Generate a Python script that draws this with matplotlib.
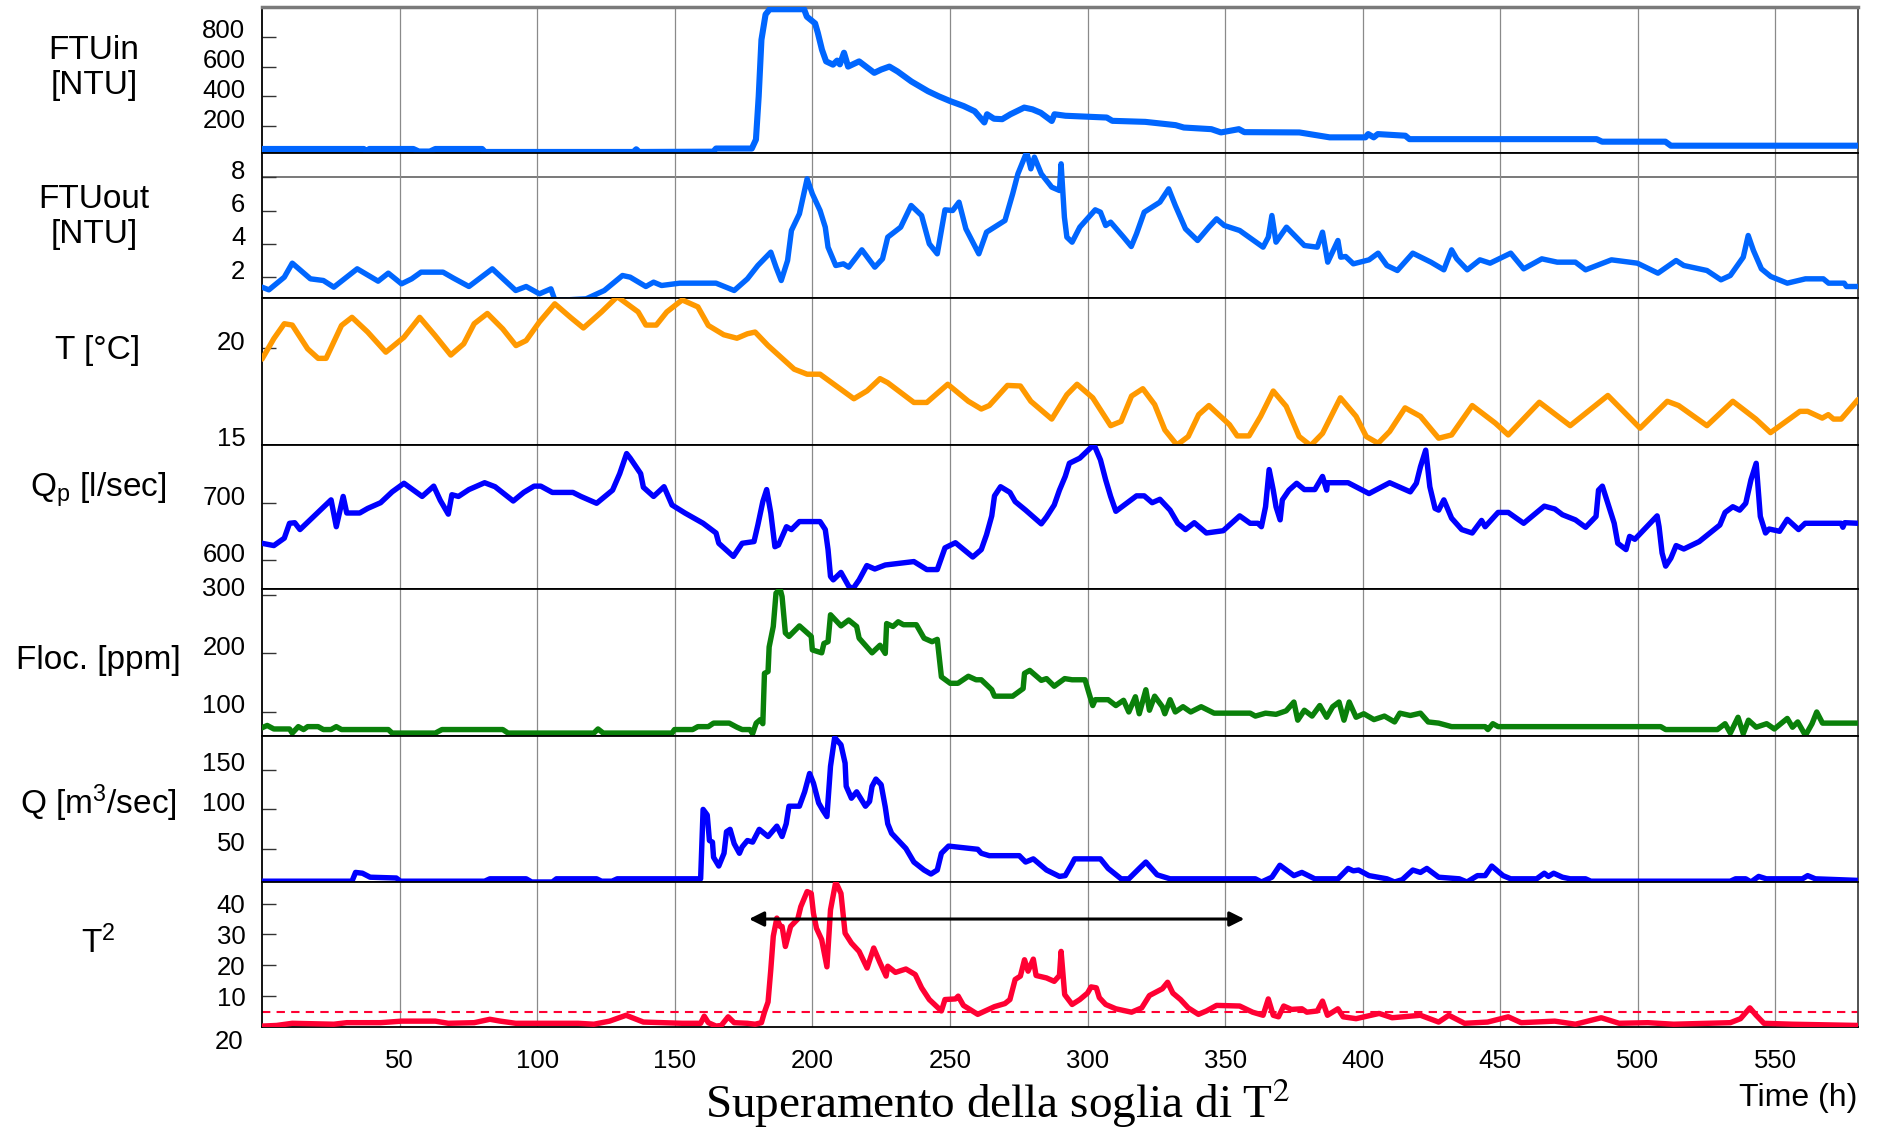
import matplotlib
matplotlib.use("Agg")
import matplotlib.pyplot as plt
import matplotlib.transforms as mtransforms

plt.rcParams['font.family'] = ['Liberation Sans', 'DejaVu Sans']
plt.rcParams['mathtext.fontset'] = 'custom'
plt.rcParams['mathtext.rm'] = 'Liberation Sans'
plt.rcParams['mathtext.it'] = 'Liberation Sans:italic'

# ---- data (hours, value) ----
ftuin = [(0, 47), (37, 47), (38, 30), (39, 47), (55, 47), (57, 30), (61, 30), (63, 47), (80, 47), (81, 27),
         (135, 27), (136, 45), (137, 27), (164, 29), (165, 50), (178, 50), (179.5, 110), (180.5, 400),
         (181.5, 780), (183, 950), (184.5, 985), (197, 985), (198, 935), (201, 890), (202, 826), (203.5, 713),
         (205, 635), (207.5, 613), (209, 640), (210, 615), (211.5, 693), (213, 600), (217, 635), (222.5, 558),
         (225, 580), (228, 600), (231, 567), (236, 500), (242, 435), (246, 400), (250, 369), (255, 335),
         (259, 300), (262.5, 225), (263.5, 280), (266, 250), (269, 247), (272, 280), (277, 325), (280, 313),
         (283, 290), (287, 235), (288, 280), (292, 270), (307, 258), (309, 236), (321, 229), (332, 207),
         (335, 191), (345, 180), (348.5, 158), (355, 180), (357, 160), (377, 158), (388, 125), (401, 125),
         (402, 147), (404, 125), (405.5, 147), (415.5, 136), (417, 113), (485, 113), (487, 96), (510, 96),
         (512, 69), (580, 69)]

ftuout = [(0, 1.4), (2.5, 1.24), (8.1, 2.0), (11, 2.84), (17.6, 1.9), (22.3, 1.8), (26.1, 1.4), (34.6, 2.5),
          (42.2, 1.76), (45.9, 2.24), (50.7, 1.6), (54.4, 1.9), (57.8, 2.3), (65.8, 2.3), (69.6, 1.94),
          (75.2, 1.44), (83.7, 2.5), (92.2, 1.2), (96, 1.44), (100.8, 1.0), (105, 1.3), (106.4, 0.64),
          (111, 0.64), (117.8, 0.7), (124.4, 1.2), (131, 2.1), (133.8, 2.0), (139.5, 1.44), (142.3, 1.7),
          (145.2, 1.5), (151.8, 1.64), (165, 1.64), (171.6, 1.2), (176.4, 1.9), (180.2, 2.7), (184.9, 3.5),
          (186.8, 2.6), (188.7, 1.8), (191, 3.0), (192.4, 4.8), (195.3, 5.8), (198.1, 7.9), (200, 7.0),
          (202.8, 6.0), (204.7, 5.0), (205.7, 3.8), (208.5, 2.7), (211.3, 2.8), (213.2, 2.6), (218, 3.64),
          (222.7, 2.6), (225.5, 3.1), (227.4, 4.4), (232.1, 5.0), (235.9, 6.3), (239.7, 5.7), (242.5, 4.0),
          (245.4, 3.4), (248.2, 6.04), (251, 6.0), (253.3, 6.5), (255.8, 4.9), (260.5, 3.4), (263.3, 4.7),
          (270, 5.4), (272.8, 7.0), (274.7, 8.2), (277.9, 9.5), (279.4, 8.5), (280.7, 9.2), (283.2, 8.2),
          (287, 7.4), (289.8, 7.2), (290.4, 8.8), (291.6, 5.6), (292.5, 4.4), (294.4, 4.1), (297.2, 5.0),
          (302.8, 6.04), (304.7, 5.9), (306.6, 5.1), (308.4, 5.3), (313.1, 4.4), (315.9, 3.84), (317.8, 4.6),
          (320.6, 5.9), (326.3, 6.5), (329.5, 7.3), (331.9, 6.3), (335.6, 4.9), (340, 4.2), (344.1, 5.0),
          (346.9, 5.5), (349.7, 5.1), (355.3, 4.8), (363.8, 3.8), (365.7, 4.4), (367, 5.7), (368.5, 4.1),
          (372.3, 5.0), (378.8, 3.9), (383.5, 3.8), (385.4, 4.7), (387.3, 2.9), (391, 4.2), (392, 3.2),
          (393.8, 3.24), (396.6, 2.8), (402.3, 3.04), (405.6, 3.44), (408.8, 2.7), (412.6, 2.4), (418.2, 3.44),
          (424.8, 2.9), (429.5, 2.44), (432.3, 3.64), (434.2, 3.1), (438, 2.44), (442.6, 3.04), (446.3, 2.84),
          (453.8, 3.44), (458.5, 2.5), (465.1, 3.1), (470.7, 2.9), (477.3, 2.9), (481, 2.44), (490.4, 3.04),
          (499.8, 2.84), (507.3, 2.24), (513.9, 3.0), (516.7, 2.7), (525.1, 2.4), (530.2, 1.84), (533.6, 2.1),
          (538.3, 3.2), (540.1, 4.5), (542, 3.6), (544.9, 2.5), (548.3, 2.04), (554.3, 1.64), (560.9, 1.9),
          (567.4, 1.9), (569.3, 1.64), (575, 1.64), (575.8, 1.44), (580, 1.44)]

temp = [(0, 19.44), (4.3, 20.5), (8.1, 21.27), (11, 21.2), (16.6, 19.97), (20.4, 19.48), (23.3, 19.48),
        (28.9, 21.18), (32.7, 21.6), (38.4, 20.84), (45, 19.8), (51.6, 20.57), (57.3, 21.6), (62.9, 20.66),
        (68.6, 19.65), (73.3, 20.23), (77.1, 21.27), (81.9, 21.8), (87.5, 21.0), (92.3, 20.14), (96, 20.4),
        (100.8, 21.36), (106.4, 22.3), (112.1, 21.6), (116.8, 21.05), (123.4, 21.88), (129.1, 22.67),
        (136.7, 21.88), (139.5, 21.2), (143.3, 21.2), (147.1, 21.88), (152.7, 22.5), (158.4, 22.14),
        (162.2, 21.18), (167.8, 20.7), (172.6, 20.52), (176.4, 20.75), (179.2, 20.84), (183.9, 20.14),
        (193.4, 18.92), (198.1, 18.66), (202.8, 18.66), (215.1, 17.39), (219.9, 17.8), (224.6, 18.43),
        (227.4, 18.22), (236.9, 17.2), (241.6, 17.2), (249.2, 18.14), (256.7, 17.26), (261.4, 16.86),
        (264.3, 17.04), (270.9, 18.08), (275.6, 18.05), (279.4, 17.26), (287, 16.34), (292.5, 17.6),
        (296.2, 18.14), (301.9, 17.44), (308.4, 16.0), (312.2, 16.22), (316, 17.53), (320.1, 17.91),
        (324.4, 17.09), (328.1, 15.78), (332.5, 15.0), (336.6, 15.44), (340.4, 16.57), (344.1, 17.04),
        (351.6, 16.05), (354.4, 15.47), (358.7, 15.47), (362.9, 16.48), (367.5, 17.79), (372.2, 17.0),
        (376.9, 15.44), (381.1, 14.97), (385.4, 15.6), (391.9, 17.44), (397.6, 16.48), (401.3, 15.44),
        (405.6, 15.09), (409.8, 15.7), (415.4, 16.92), (421, 16.48), (427.6, 15.35), (432.3, 15.52),
        (439.8, 17.04), (448.2, 16.13), (452.9, 15.52), (464.2, 17.21), (475.4, 16.0), (489.1, 17.56),
        (500.8, 15.87), (510.7, 17.26), (514.8, 17.04), (525.1, 16.0), (534.5, 17.26), (542.9, 16.34),
        (548.2, 15.64), (558.9, 16.74), (561.7, 16.74), (567, 16.39), (569.2, 16.57), (571.1, 16.34),
        (573.9, 16.34), (580, 17.35)]

qp = [(0, 630), (4.3, 626), (8.1, 639), (10, 665), (11.9, 666), (13.8, 654), (25.1, 706), (27, 659),
      (29.5, 712), (30.8, 683), (35.5, 683), (38.4, 691), (43.1, 701), (47.3, 720), (51.6, 735), (58.2, 712),
      (62.4, 730), (64.8, 705), (67.7, 681), (69, 715), (71.4, 712), (75.2, 724), (80.9, 736), (84.7, 729),
      (91.3, 704), (95.1, 719), (98.9, 730), (101.3, 730), (105.5, 719), (113, 719), (115.9, 712),
      (121.6, 700), (127.4, 723), (130, 752), (132.5, 787), (133.8, 779), (137.6, 752), (138.6, 728),
      (142.3, 712), (146.1, 729), (149, 697), (153.7, 683), (160.3, 665), (165, 648), (166, 630),
      (171.3, 607), (174.5, 630), (178.8, 633), (180.2, 662), (182, 703), (183.4, 724), (184.9, 683),
      (186.4, 624), (187.7, 627), (190.6, 659), (192.4, 654), (195.3, 668), (202.8, 668), (204.7, 654),
      (205.7, 619), (206.6, 572), (207.6, 566), (210.4, 579), (213.2, 555), (214.7, 550), (217, 566),
      (219.8, 591), (222.7, 585), (226.5, 592), (236.9, 598), (241.6, 584), (245.4, 584), (248.2, 622),
      (252, 631), (258.3, 606), (261.4, 619), (263.3, 645), (265.2, 678), (266.2, 713), (268.4, 729),
      (271.8, 719), (273.7, 703), (277.5, 688), (283.2, 664), (285.1, 676), (287.9, 697), (289.8, 723),
      (291.9, 747), (293.4, 770), (297.2, 779), (300.9, 796), (302.4, 802), (304.7, 776), (306.6, 741),
      (308.4, 712), (310.3, 686), (317.8, 713), (320.6, 713), (323.5, 701), (326.3, 707), (330, 688),
      (332.8, 665), (335.6, 654), (338.8, 666), (343.2, 648), (349.3, 652), (355.3, 678), (359.1, 665),
      (361.9, 665), (363.2, 659), (364.7, 694), (366, 759), (367.5, 723), (368.5, 694), (370, 671),
      (370.8, 706), (373.2, 723), (376, 735), (378.8, 724), (382.6, 724), (385.4, 747), (386.9, 723),
      (387.2, 736), (394.7, 736), (402.3, 717), (409.8, 736), (417.3, 720), (419.5, 735), (421, 764),
      (422.9, 793), (424.4, 729), (426.3, 691), (427.6, 688), (429.5, 706), (432.3, 674), (436, 654),
      (439.8, 648), (443.2, 670), (444.5, 659), (449.2, 684), (452.9, 684), (458.5, 665), (466, 695),
      (469.8, 690), (472.6, 680), (477.3, 671), (481, 658), (484.8, 677), (485.7, 723), (487.1, 730),
      (489.5, 694), (491.4, 665), (492.7, 630), (495.7, 619), (497, 642), (498.9, 637), (507, 678),
      (507.7, 659), (508.8, 613), (510.1, 590), (512, 604), (513.9, 626), (516.7, 620), (522.3, 633),
      (529.8, 662), (531.7, 684), (534.5, 694), (537, 688), (539.2, 700), (541.1, 741), (543, 770),
      (544.5, 677), (546.4, 648), (547.7, 655), (551.5, 651), (554.3, 672), (558.4, 654), (560.8, 665),
      (573.9, 665), (574.5, 658), (575.2, 666), (580, 665)]

floc = [(0, 73), (1.9, 77), (4.3, 71), (10, 71), (11, 64), (13.2, 75), (15.1, 70), (16.6, 75), (20.4, 75),
        (22.3, 70), (25.1, 70), (27, 75), (28.9, 70), (45.9, 70), (47.3, 64), (63, 64), (65.4, 70), (87.5, 70),
        (89.4, 64), (120.6, 64), (122.1, 71), (124, 64), (149, 64), (149.9, 70), (156.5, 70), (158.4, 75),
        (162.2, 75), (164.1, 81), (169.8, 81), (172.6, 74), (174.5, 70), (177.3, 70), (178.3, 63),
        (179.6, 81), (181.1, 87), (182, 80), (182.6, 166), (183.9, 169), (184.3, 211), (185.8, 246),
        (186.8, 303), (188.3, 310), (189, 297), (190.2, 235), (191.5, 229), (195.3, 247), (199.6, 229),
        (200, 206), (203.4, 201), (204.2, 217), (205.7, 220), (206.6, 266), (210.4, 247), (213.2, 257),
        (216.1, 246), (217, 226), (221.7, 201), (224.6, 214), (226.5, 200), (227, 251), (229.3, 246),
        (231.2, 254), (233.1, 249), (237.8, 249), (240.6, 226), (243.5, 220), (245.4, 224), (246.9, 160),
        (250.1, 149), (252.9, 149), (256.7, 161), (259.5, 155), (261.4, 155), (265.2, 138), (266.2, 127),
        (272.8, 127), (276.6, 140), (277.1, 166), (279, 171), (283.2, 154), (285.1, 157), (287.9, 144),
        (291.7, 157), (294.4, 155), (299.1, 155), (300.6, 131), (301.9, 111), (302.8, 121), (307.5, 121),
        (310.3, 111), (313.1, 120), (315, 100), (317.4, 126), (318.8, 97), (321.2, 138), (322.5, 103),
        (324.4, 127), (327.2, 109), (328.1, 97), (330, 121), (331.9, 100), (334.7, 109), (337.5, 100),
        (341.3, 109), (346, 98), (359.1, 98), (361, 93), (364.7, 98), (368.5, 96), (372.2, 102), (375, 117),
        (376.4, 86), (378.8, 103), (381.6, 93), (384.4, 111), (386.9, 91), (389.1, 109), (391.4, 117),
        (393.2, 86), (395.1, 117), (397.6, 91), (400.4, 97), (404.1, 87), (407.9, 93), (411.6, 83),
        (413.5, 98), (417.3, 94), (421, 98), (423.8, 83), (427.6, 81), (432.3, 75), (444.5, 75), (445.5, 70),
        (447.3, 80), (449.2, 75), (508.3, 75), (510.1, 70), (528.9, 70), (531.7, 80), (533.6, 64),
        (536.4, 91), (538.3, 63), (540.2, 86), (543, 74), (546.8, 80), (549.6, 71), (554.3, 89), (556.2, 74),
        (558.1, 83), (560.9, 60), (563.3, 80), (565, 100), (567.1, 81), (580, 81)]

qriver = [(0, 10), (32.7, 10), (34, 21), (36.5, 20), (39.3, 15), (48.8, 14), (50.3, 10), (80.9, 10),
          (82.8, 13), (96, 13), (98, 9), (105.5, 9), (107, 13), (121.6, 13), (123.4, 10), (127.2, 10),
          (129.1, 13), (159.4, 13), (160.3, 100), (161.8, 93), (162.6, 61), (163.7, 59), (164.1, 40),
          (166, 29), (167.9, 45), (168.8, 72), (170.1, 75), (171.6, 57), (173.5, 45), (174.5, 53),
          (176.4, 61), (178.3, 59), (180.7, 75), (183.9, 66), (187.1, 79), (189, 66), (190.5, 82),
          (191.5, 104), (195.3, 104), (197.2, 122), (199, 145), (200.4, 133), (202.3, 108), (203.8, 99),
          (205.3, 91), (206.6, 154), (208.1, 190), (210.4, 181), (211.9, 158), (212.3, 129), (214.2, 114),
          (216.1, 122), (219.3, 104), (220.8, 110), (221.7, 129), (223.1, 138), (225, 131), (226.5, 103),
          (227.4, 82), (228.8, 70), (234, 51), (236.9, 34), (240.6, 24), (243.1, 19), (245.4, 24),
          (246.9, 45), (249.5, 54), (260.1, 50), (261.4, 45), (264.3, 42), (275.2, 42), (277.5, 34),
          (280.3, 38), (285.1, 24), (289.8, 16), (291.9, 17), (294.4, 32), (295.3, 38), (304.7, 38),
          (307.5, 26), (312.2, 13), (315, 13), (318.8, 26), (321.2, 34), (325.3, 18), (330, 13), (361, 13),
          (363.2, 9), (367, 15), (369.9, 30), (375, 17), (377.9, 21), (382.6, 13), (391, 13), (394.7, 26),
          (396.6, 23), (398.5, 24), (402.3, 17), (408.8, 13), (411.6, 9), (414.4, 12), (418.2, 24),
          (421, 21), (423.3, 26), (427.6, 15), (435.1, 13), (437.9, 9), (441.7, 17), (444.5, 17), (446.9, 29),
          (451, 17), (453.8, 13), (463.2, 13), (466, 20), (467.5, 16), (469.4, 20), (472.6, 15), (475.4, 13),
          (481, 13), (482.9, 10), (533.6, 10), (535.5, 13), (539.2, 13), (541.1, 9), (543.9, 16),
          (546.7, 13), (559.8, 13), (561.7, 17), (564.5, 13), (580, 11)]

t2 = [(0, 0.3), (5.3, 0.5), (11, 1.2), (26.1, 0.9), (30.8, 1.4), (43.1, 1.4), (50.7, 1.9), (63, 1.9),
      (67.7, 1.2), (77.1, 1.4), (82.8, 2.5), (86.6, 1.9), (92.2, 1.2), (114.9, 1.2), (120.6, 0.9),
      (126.3, 1.9), (132.3, 3.8), (138.6, 1.6), (152.7, 1.2), (159.4, 1.2), (160.7, 3.5), (162.2, 1.4),
      (165, 0.3), (166.9, 0.5), (169.4, 3.3), (171.6, 1.4), (176.4, 1.2), (179.2, 0.9), (181.5, 1.4),
      (182.6, 4.8), (183.9, 8.1), (184.9, 18.6), (185.8, 29.4), (187.1, 35.3), (188.3, 32.6), (189, 32.6),
      (190.2, 26.1), (192.1, 32.6), (194.7, 35), (195.8, 39), (198.1, 43.9), (199.6, 43.3), (200.4, 36.9),
      (201.5, 32), (203.4, 28.3), (205.3, 19.5), (206.6, 38), (208.5, 47), (210.4, 43.3), (211.9, 30.4),
      (214.2, 27.2), (217, 24.5), (219.9, 19.1), (222.3, 25.6), (224.6, 20.8), (226.8, 16.5), (227.4, 19.7),
      (230.2, 17.7), (234, 18.8), (237.4, 17), (239.7, 12.7), (242.5, 8.9), (246.9, 5.2), (248.2, 8.9),
      (252, 9.1), (253, 10), (254.9, 7), (260.1, 4.1), (266.2, 6.6), (270, 7.6), (271.8, 8.9), (273.7, 15.4),
      (275.6, 16.5), (277.1, 21.8), (278.4, 18.1), (280.3, 22), (281.3, 16.7), (285.1, 15.9), (287.9, 14.8),
      (289.8, 16.7), (290.4, 24.5), (291.7, 10.5), (294.4, 7.3), (297.2, 8.9), (300, 11), (301.3, 13),
      (303.2, 12.7), (304.3, 9.5), (306.6, 7.3), (310.3, 5.9), (316, 4.8), (319.7, 6.2), (322.5, 10.2),
      (327.2, 12.4), (329.1, 14.5), (331, 11), (333.8, 8.9), (336.6, 6.2), (340.3, 4.1), (343.2, 5.2),
      (346.9, 7), (355.3, 6.8), (360, 4.8), (363.8, 3.8), (365.7, 9.1), (367.5, 3.8), (369.4, 3.3),
      (371.3, 6.8), (374.1, 5.7), (377.9, 5.9), (379.7, 4.8), (383.5, 5.2), (385.4, 8.4), (387.2, 3.8),
      (391, 5.9), (392.9, 3.3), (397.6, 2.7), (406, 4.4), (410.7, 3), (421, 3.8), (427.6, 1.6), (431.3, 3.8),
      (437, 1.2), (445.4, 1.6), (452.9, 3.3), (457.6, 1.4), (469.8, 1.9), (477.3, 0.9), (486.7, 3),
      (493.2, 1.2), (503.6, 1.4), (513, 0.9), (533.6, 1.4), (537.3, 2.7), (540.7, 6.2), (543, 3.8),
      (545.8, 1.2), (556.2, 0.9), (580, 0.5)]

t2_threshold = 5
arrow_span = (177, 357)
arrow_level = 35

x_ticks = [50, 100, 150, 200, 250, 300, 350, 400, 450, 500, 550]

panels = [
    ("FTUin\n[NTU]", ftuin, '#0066ff', (20, 1000), [200, 400, 600, 800]),
    ("FTUout\n[NTU]", ftuout, '#0066ff', (0.75, 9.45), [2, 4, 6, 8]),
    ("T [°C]", temp, '#ff9900', (15, 22.6), [15, 20]),
    ("Q$_\\mathrm{p}$ [l/sec]", qp, '#0000ff', (550, 802), [600, 700]),
    ("Floc. [ppm]", floc, '#0a800a', (59, 310), [100, 200, 300]),
    ("Q [m$^\\mathrm{3}$/sec]", qriver, '#0000ff', (9, 192), [50, 100, 150]),
    ("T$^\\mathrm{2}$", t2, '#ff0033', (0, 47), [10, 20, 30, 40]),
]

W, H = 1881, 1128
fig = plt.figure(figsize=(W / 100, H / 100), dpi=100)

edges = [7, 153, 298, 445, 589, 736, 882, 1027]
label_pos = [(94, 68), (94, 217), (98, 350), (98, 490), (98, 660), (98, 803), (98, 943)]
left, right = 262, 1858

axes = []
for i, (name, series, color, ylim, yticks) in enumerate(panels):
    top, bot = edges[i], edges[i + 1]
    ax = fig.add_axes([left / W, 1 - bot / H, (right - left) / W, (bot - top) / H])
    hx = [p[0] for p in series]
    hv = [p[1] for p in series]
    lw = 4.4 if i == 0 else 3.9
    ax.plot(hx, hv, color=color, lw=lw, solid_joinstyle='round', solid_capstyle='round', zorder=3)
    ax.set_xlim(0, 580)
    ax.set_ylim(*ylim)
    ax.set_xticks(x_ticks)
    ax.set_yticks(yticks)
    ax.grid(axis='x', color='#8a8a8a', lw=0.9, zorder=0)
    ax.tick_params(axis='x', length=0, labelbottom=False, labelsize=18.5, pad=16)
    ax.tick_params(axis='y', direction='in', length=10, width=1, color='#333333',
                   labelsize=18.5, pad=12)
    for s in ['left', 'right', 'top', 'bottom']:
        ax.spines[s].set_color('black')
        ax.spines[s].set_linewidth(1.3)
    ax.spines['right'].set_color('#444444')
    if i == 0:
        ax.spines['top'].set_color('#7a7a7a')
        ax.spines['top'].set_linewidth(2.5)
    if i == 1:
        ax.axhline(8, color='#555555', lw=1.1, zorder=1)
    # tick labels sit a little above their tick marks
    if i < 6:
        shift = mtransforms.ScaledTranslation(0, 0.08, fig.dpi_scale_trans)
        for tk in ax.yaxis.get_major_ticks():
            tk.label1.set_transform(tk.label1.get_transform() + shift)
    lx, ly = label_pos[i]
    fig.text(lx / W, 1 - ly / H, name, ha='center', va='center', fontsize=24,
             linespacing=1.2)
    axes.append(ax)

ax7 = axes[-1]
ax7.tick_params(axis='x', labelbottom=True)
ax7.axhline(t2_threshold, color='#ff0033', lw=1.5, ls=(0, (4, 3)), zorder=2)
ax7.annotate('', xy=(arrow_span[0], arrow_level), xytext=(arrow_span[1], arrow_level),
             arrowprops=dict(arrowstyle='<|-|>', color='black', lw=2.2, mutation_scale=22,
                             shrinkA=0, shrinkB=0), zorder=5)

# stray "20" label under the T2 axis, as in the source figure
fig.text(243 / W, 1 - 1042 / H, "20", ha='right', va='center', fontsize=18.5)

fig.text(998 / W, 1 - 1103 / H, "Superamento della soglia di T$^\\mathrm{2}$", ha='center', va='center',
         fontsize=34, family='Liberation Serif', math_fontfamily='stix')
fig.text(1857 / W, 1 - 1098 / H, "Time (h)", ha='right', va='center', fontsize=23)

fig.savefig("out.png", dpi=100)
